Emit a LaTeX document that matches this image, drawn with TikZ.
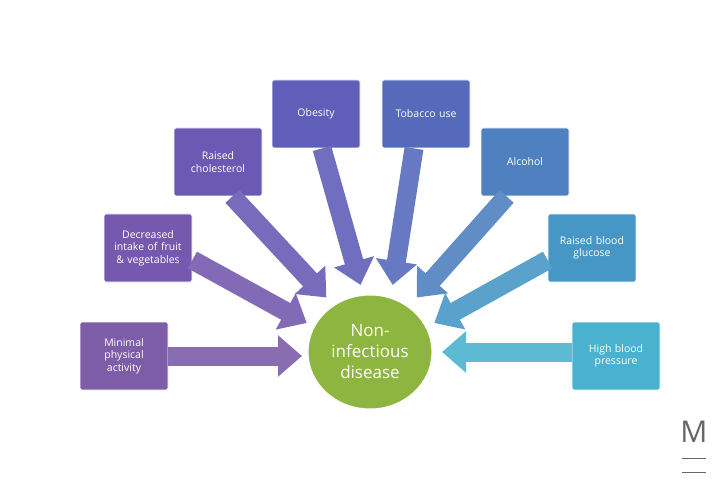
\documentclass[tikz,border=0pt]{standalone}
\usepackage{fontspec}
\setmainfont{Open Sans}
\usetikzlibrary{arrows.meta,shapes.geometric}
\begin{document}
\begin{tikzpicture}[x=1pt,y=-1pt,
 box/.style={draw=white,line width=0.8pt,minimum width=88pt,minimum height=68pt,text width=82pt,align=center,font=\fontsize{10.5}{12.5}\selectfont,text=white,inner sep=2pt,rounded corners=2pt},
 arr/.style={line width=19pt,-{Triangle[width=40pt,length=24pt]},shorten >=-2pt}]
\useasboundingbox (0,0) rectangle (720,497);
\fill[white] (0,0) rectangle (720,497);
\definecolor{c1}{HTML}{7D5CA8}\definecolor{c2}{HTML}{7459AE}
\definecolor{c3}{HTML}{6A5AB4}\definecolor{c4}{HTML}{5F5EB8}
\definecolor{c5}{HTML}{566ABC}\definecolor{c6}{HTML}{4F80C0}
\definecolor{c7}{HTML}{4797C6}\definecolor{c8}{HTML}{4AB2CE}
\node[ellipse,fill={rgb,255:red,141;green,181;blue,64},draw=white,line width=1pt,minimum width=124pt,minimum height=114pt,text=white,align=center,font=\fontsize{17}{21}\selectfont] (e) at (370,352) {Non-\\infectious\\disease};
\node[box,fill=c1] (b1) at (124,356) {Minimal\\physical\\activity};
\node[box,fill=c2] (b2) at (148,248) {Decreased\\intake of fruit\\\& vegetables};
\node[box,fill=c3] (b3) at (218,162) {Raised\\cholesterol};
\node[box,fill=c4] (b4) at (316,114) {Obesity};
\node[box,fill=c5] (b5) at (426,114) {Tobacco use};
\node[box,fill=c6] (b6) at (525,162) {Alcohol};
\node[box,fill=c7] (b7) at (592,248) {Raised blood\\glucose};
\node[box,fill=c8] (b8) at (616,356) {High blood\\pressure};
\coordinate (t1) at (300,356);
\coordinate (t2) at (305,322);
\coordinate (t3) at (325,296);
\coordinate (t4) at (360,283);
\coordinate (t5) at (393,283);
\coordinate (t6) at (418,296);
\coordinate (t7) at (436,322);
\coordinate (t8) at (444,352);
\draw[arr,c1!90] (b1.east) -- (t1);
\draw[arr,c2!90] (b2.east) ++(0,12) -- (t2);
\draw[arr,c3!90] (b3.south east) ++(-30,0) -- (t3);
\draw[arr,c4!90] (b4.south) ++(6,0) -- (t4);
\draw[arr,c5!90] (b5.south) ++(-12,0) -- (t5);
\draw[arr,c6!90] (b6.south west) ++(26,0) -- (t6);
\draw[arr,c7!90] (b7.west) ++(0,12) -- (t7);
\draw[arr,c8!90] (b8.west) ++(0,-4) -- (t8);
\node[font=\fontsize{30}{30}\selectfont,text=gray!80!black] (m) at (694,432) {M};
\draw[gray!80!black,line width=1pt] (682,458) -- (706,458) (682,472) -- (706,472);
\end{tikzpicture}
\end{document}
